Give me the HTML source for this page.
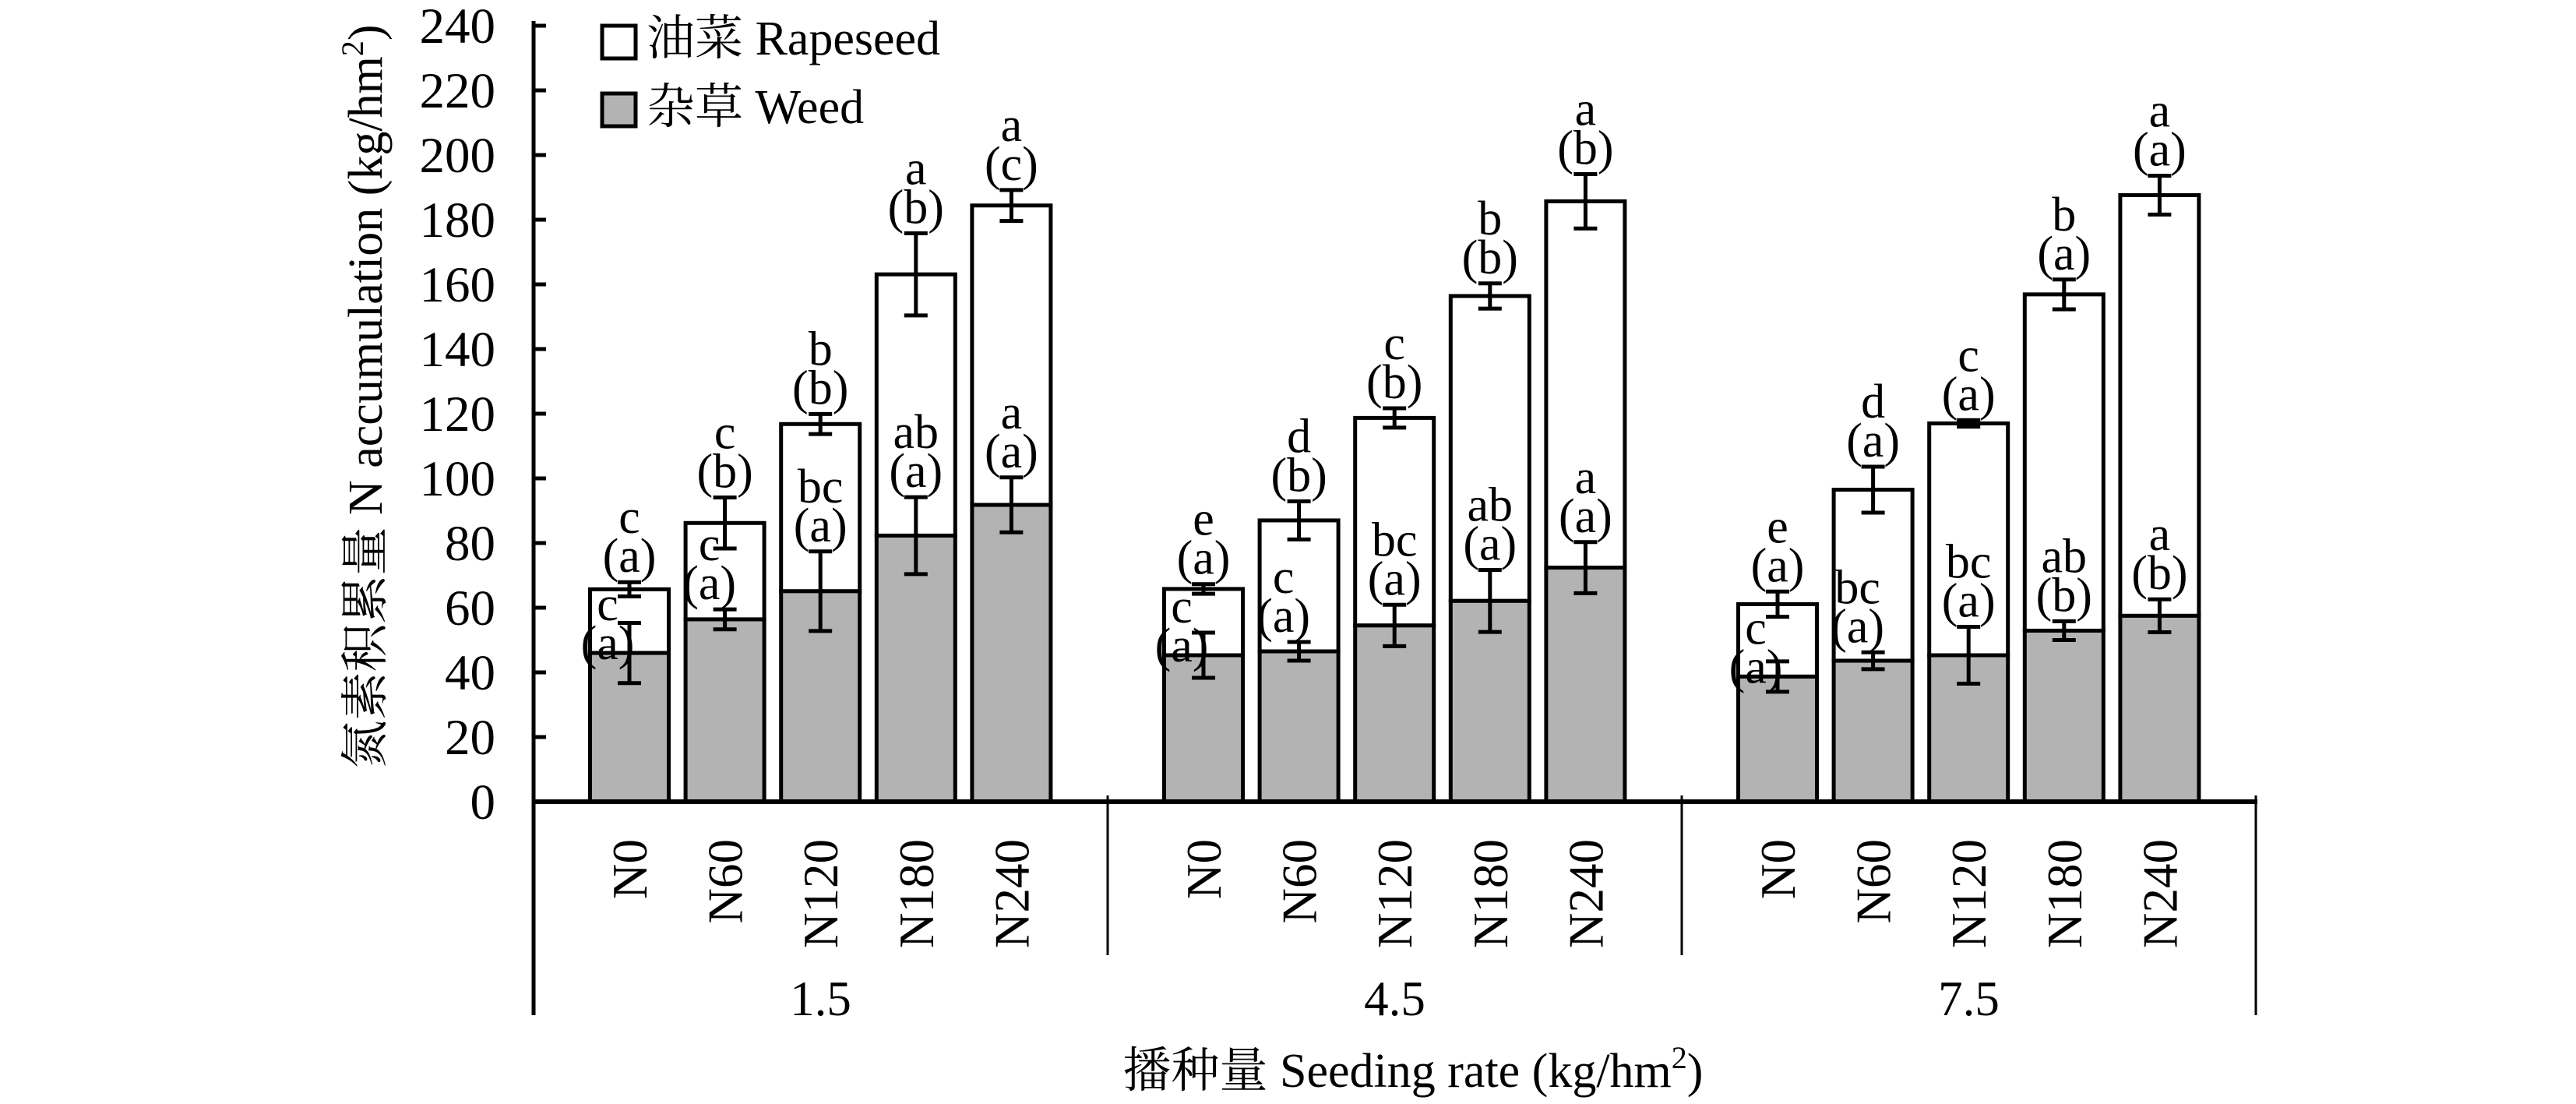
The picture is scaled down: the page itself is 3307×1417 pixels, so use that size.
<!DOCTYPE html>
<html><head><meta charset="utf-8">
<style>
html,body{margin:0;padding:0;background:#fff;}
svg{display:block;}
svg text{font-family:"Liberation Serif","DejaVu Serif","Noto Serif CJK SC",serif;fill:#000;}
</style></head>
<body>
<svg id="chart" font-family="'Liberation Serif','DejaVu Serif','Noto Serif CJK SC',serif" width="3307" height="1417" viewBox="0 0 3307 1417" xmlns="http://www.w3.org/2000/svg">
<rect x="0" y="0" width="3307" height="1417" fill="#fff"/>
<g id="plot"></g>
<g>
  <rect x="773" y="33" width="43" height="42" fill="#fff" stroke="#000" stroke-width="5"/>
  <text x="830" y="70" font-size="62">油菜 Rapeseed</text>
  <rect x="773" y="120" width="43" height="42" fill="#b3b3b3" stroke="#000" stroke-width="5"/>
  <text x="830" y="158" font-size="62">杂草 Weed</text>
</g>
<text transform="translate(490,509) rotate(-90)" text-anchor="middle" font-size="62">氮素积累量 N accumulation (kg/hm<tspan font-size="40" dy="-24">2</tspan><tspan dy="24">)</tspan></text>
<text x="1814" y="1395" text-anchor="middle" font-size="62">播种量 Seeding rate (kg/hm<tspan font-size="40" dy="-24">2</tspan><tspan dy="24">)</tspan></text>
</svg>
<script>
const groups = ["1.5","4.5","7.5"];
const treatments = ["N0","N60","N120","N180","N240"];
const weedVals = [46.0,56.4,65.1,82.3,91.8, 45.3,46.5,54.5,62.1,72.4, 38.7,43.6,45.3,52.9,57.5];
const totalVals = [65.7,86.2,116.8,163.1,184.4, 65.8,87.0,118.7,156.4,185.7, 61.1,96.5,117.0,156.9,187.6];
const weedErr = [9.3,3.1,12.3,11.9,8.5, 7.0,2.9,6.4,9.6,7.9, 4.7,2.6,8.8,2.9,5.1];
const totalErr = [2.2,7.9,3.1,12.7,4.8, 1.5,5.9,3.0,3.9,8.4, 3.9,7.1,1.0,4.6,6.0];
const rapeLetter = ["c","c","b","a","a", "e","d","c","b","a", "e","d","c","b","a"];
const rapeParen = ["(a)","(b)","(b)","(b)","(c)", "(a)","(b)","(b)","(b)","(b)", "(a)","(a)","(a)","(a)","(a)"];
const weedLetter = ["c","c","bc","ab","a", "c","c","bc","ab","a", "c","bc","bc","ab","a"];
const weedParen = ["(a)","(a)","(a)","(a)","(a)", "(a)","(a)","(a)","(a)","(a)", "(a)","(a)","(a)","(b)","(b)"];
const yTicks = [0,20,40,60,80,100,120,140,160,180,200,220,240];

const NS="http://www.w3.org/2000/svg";
const plot=document.getElementById('plot');
const X0=685, GW=737, Y0=1029, PPU=4.15, PITCH=122.6, BW=101;
const y=v=>Y0-v*PPU;
const xc=(g,i)=>X0+g*GW+123+i*PITCH;
function mk(tag,attrs,parent){const e=document.createElementNS(NS,tag);for(const k in attrs)e.setAttribute(k,attrs[k]);(parent||plot).appendChild(e);return e;}

yTicks.forEach(t=>{
  const l=mk('line',{x1:X0,x2:X0+16,y1:y(t),y2:y(t),stroke:'#000','stroke-width':5});
  
  
  const tx=mk('text',{x:636,y:y(t)+22,'text-anchor':'end','font-size':65});
  tx.textContent=t;
  
  
});

groups.forEach((gname,g)=>{
  treatments.forEach((tn,i)=>{
    const k=g*5+i, cx=xc(g,i);
    const w=weedVals[k], tot=totalVals[k];
    const rb=mk('rect',{x:cx-BW/2,y:y(tot),width:BW,height:y(w)-y(tot),fill:'#fff',stroke:'#000','stroke-width':5});
    
    
    const wb=mk('rect',{x:cx-BW/2,y:y(w),width:BW,height:Y0-y(w),fill:'#b3b3b3',stroke:'#000','stroke-width':5});
    
    
    [[tot,totalErr[k],'error-bar-rapeseed'],[w,weedErr[k],'error-bar-weed']].forEach(([v,e,nm])=>{
      const eg=mk('path',{d:`M${cx},${y(v+e)}V${y(v-e)}M${cx-15},${y(v+e)}H${cx+15}M${cx-15},${y(v-e)}H${cx+15}`,stroke:'#000','stroke-width':5,fill:'none'});
      
      
    });
    let pb=y(tot+totalErr[k])-13;
    const t1=mk('text',{x:cx,y:pb,'text-anchor':'middle','font-size':62});t1.textContent=rapeParen[k];
    
    
    const t2=mk('text',{x:cx,y:pb-50,'text-anchor':'middle','font-size':62});t2.textContent=rapeLetter[k];
    
    
    let wpb=y(w+weedErr[k])-13, dx=(i===1?-20:0);
    if(i===0){wpb=y(w)+8;dx=-28;}
    const t3=mk('text',{x:cx+dx,y:wpb,'text-anchor':'middle','font-size':62});t3.textContent=weedParen[k];
    
    
    const t4=mk('text',{x:cx+dx,y:wpb-50,'text-anchor':'middle','font-size':62});t4.textContent=weedLetter[k];
    
    
    const cl=mk('text',{transform:`translate(${cx+22},1077) rotate(-90)`,'text-anchor':'end','font-size':63});
    cl.textContent=tn;
    
    
  });
  const gl=mk('text',{x:X0+g*GW+GW/2,y:1303,'text-anchor':'middle','font-size':63});
  gl.textContent=gname;
  
  
});

const ya=mk('line',{x1:X0,x2:X0,y1:27,y2:1303,stroke:'#000','stroke-width':5});


const xa=mk('line',{x1:X0-2,x2:X0+3*GW+2,y1:Y0,y2:Y0,stroke:'#000','stroke-width':6});


[1,2].forEach(g=>{
  const s=mk('line',{x1:X0+g*GW,x2:X0+g*GW,y1:1021,y2:1226,stroke:'#000','stroke-width':3});
  
  
});
const re=mk('line',{x1:X0+3*GW,x2:X0+3*GW,y1:1021,y2:1303,stroke:'#000','stroke-width':3});


</script>
</body></html>
